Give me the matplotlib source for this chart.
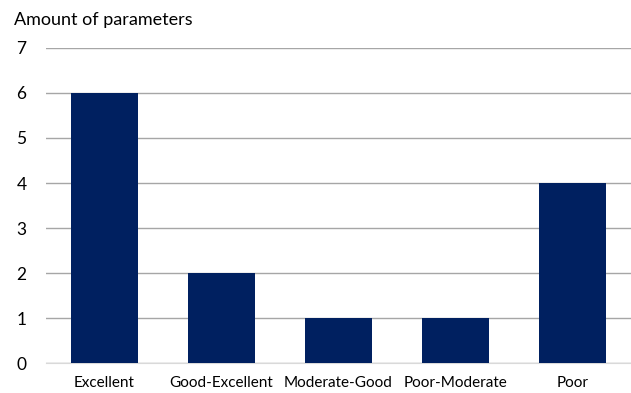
import matplotlib
matplotlib.use('Agg')
import matplotlib.pyplot as plt

categories = ['Excellent', 'Good-Excellent', 'Moderate-Good', 'Poor-Moderate', 'Poor']
counts = [6, 2, 1, 1, 4]
yticks = [0, 1, 2, 3, 4, 5, 6, 7]

plt.rcParams['font.family'] = ['Lato', 'DejaVu Sans']

fig = plt.figure(figsize=(6.31, 3.93), dpi=100)
ax = fig.add_axes([0.073, 0.076, 0.927, 0.802])

ax.bar(range(len(categories)), counts, width=0.573, color='#002060', zorder=3)
ax.set_xlim(-0.5, len(categories) - 0.5)
ax.set_ylim(0, 7)
ax.set_yticks(yticks)
ax.set_xticks(range(len(categories)))
ax.set_xticklabels(categories, fontsize=11)
ax.tick_params(axis='y', labelsize=12.5, length=0, pad=14)
ax.tick_params(axis='x', length=0, pad=9)
ax.yaxis.grid(True, color='#a6a6a6', linewidth=1, zorder=0)
for s in ['top', 'right', 'left']:
    ax.spines[s].set_visible(False)
ax.spines['bottom'].set_color('#d9d9d9')

fig.text(14 / 631, 1 - 20 / 393, 'Amount of parameters', fontsize=13, va='center', ha='left')

fig.savefig('out.png', dpi=100)
